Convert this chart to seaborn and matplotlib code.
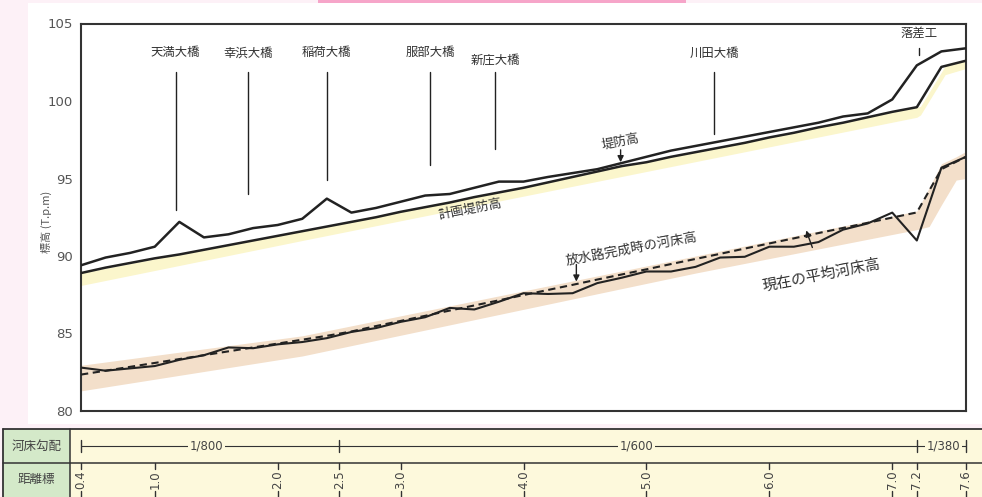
import numpy as np
import pandas as pd
import matplotlib
matplotlib.use("Agg")
import matplotlib.pyplot as plt
import seaborn as sns
from matplotlib.patches import Rectangle
from matplotlib.transforms import blended_transform_factory

# ---------------- data ----------------
dist_km = [0.4, 0.6, 0.8, 1.0, 1.2, 1.4, 1.6, 1.8, 2.0, 2.2, 2.4, 2.6, 2.8, 3.0,
           3.2, 3.4, 3.6, 3.8, 4.0, 4.2, 4.4, 4.6, 4.8, 5.0, 5.2, 5.4, 5.6, 5.8,
           6.0, 6.2, 6.4, 6.6, 6.8, 7.0, 7.2, 7.4, 7.6]
levee_height = [89.4, 89.9, 90.2, 90.6, 92.2, 91.2, 91.4, 91.8, 92.0, 92.4, 93.7,
                92.8, 93.1, 93.5, 93.9, 94.0, 94.4, 94.8, 94.8, 95.1, 95.35, 95.6,
                96.0, 96.4, 96.8, 97.1, 97.4, 97.7, 98.0, 98.3, 98.6, 99.0, 99.2,
                100.1, 102.3, 103.2, 103.4]
plan_levee = [88.9, 89.25, 89.55, 89.85, 90.1, 90.4, 90.7, 91.0, 91.3, 91.6, 91.9,
              92.2, 92.5, 92.85, 93.15, 93.45, 93.8, 94.1, 94.4, 94.75, 95.1, 95.45,
              95.8, 96.05, 96.4, 96.7, 97.0, 97.3, 97.65, 97.95, 98.3, 98.6, 98.95,
              99.3, 99.6, 102.2, 102.6]
bed_now = [82.8, 82.6, 82.75, 82.9, 83.3, 83.6, 84.1, 84.05, 84.3, 84.45, 84.7,
           85.1, 85.35, 85.75, 86.05, 86.65, 86.55, 87.05, 87.6, 87.55, 87.6, 88.25,
           88.6, 89.0, 89.0, 89.3, 89.9, 89.95, 90.6, 90.6, 90.9, 91.7, 92.1, 92.8,
           91.0, 95.7, 96.4]
bed_plan = [82.35, 82.6, 82.85, 83.1, 83.35, 83.6, 83.85, 84.1, 84.35, 84.6, 84.85,
            85.13, 85.48, 85.81, 86.14, 86.48, 86.81, 87.14, 87.48, 87.81, 88.14,
            88.48, 88.81, 89.14, 89.48, 89.81, 90.14, 90.48, 90.81, 91.14, 91.48,
            91.81, 92.14, 92.48, 92.81, 95.6, 96.4]

levee_band_x = [0.4, 2.2, 7.2, 7.23, 7.43, 7.6]
levee_band_top = [88.9, 91.65, 99.6, 99.65, 102.25, 102.6]
levee_band_bottom = [88.1, 91.0, 98.95, 99.1, 101.7, 102.1]

bed_band_x = [0.4, 2.2, 5.4, 7.2, 7.3, 7.4, 7.52, 7.6]
bed_band_top = [82.95, 84.85, 90.0, 92.9, 94.4, 95.95, 96.4, 96.75]
bed_band_bottom = [81.3, 83.55, 88.9, 91.7, 91.9, 93.3, 94.9, 95.0]

bridge_names = ["天満大橋", "幸浜大橋", "稲荷大橋", "服部大橋", "新庄大橋", "川田大橋"]
bridge_km = [1.17, 1.76, 2.40, 3.24, 3.77, 5.55]
bridge_line_bottom = [93.0, 94.0, 94.9, 95.9, 96.9, 97.9]
bridge_label_y = [103.1, 103.1, 103.1, 103.1, 102.65, 103.1]

drop_name = "落差工"
drop_km = 7.22

grad_breaks = [0.4, 2.5, 7.2, 7.6]
grad_labels = ["1/800", "1/600", "1/380"]
grad_label_km = [1.42, 4.92, 7.42]

dist_ticks = [0.4, 1.0, 2.0, 2.5, 3.0, 4.0, 5.0, 6.0, 7.0, 7.2, 7.6]
dist_tick_labels = ["0.4", "1.0", "2.0", "2.5", "3.0", "4.0", "5.0", "6.0",
                    "7.0", "7.2", "7.6"]
y_ticks = [80, 85, 90, 95, 100, 105]

# ---------------- style ----------------
sns.set_style("white")
plt.rcParams["font.family"] = ["Noto Sans CJK JP", "DejaVu Sans"]

W, H = 982, 497
LINE = "#222222"
TXT = "#333333"


def fx(px):
    return px / W


def fy(py):
    return 1 - py / H


fig = plt.figure(figsize=(W / 100, H / 100), dpi=100, facecolor="#fdf1f7")
fig.patches.append(Rectangle((fx(28), fy(424)), fx(982) - fx(28), fy(3) - fy(424),
                             transform=fig.transFigure, facecolor="white",
                             edgecolor="none", zorder=-2))
fig.patches.append(Rectangle((fx(318), fy(3)), fx(686) - fx(318), fy(0) - fy(3),
                             transform=fig.transFigure, facecolor="#f6a5c9",
                             edgecolor="none", zorder=-1))

ax = fig.add_axes([fx(81), fy(411), fx(966) - fx(81), fy(23.5) - fy(411)])
ax.set_facecolor("white")

df = pd.DataFrame({"km": dist_km, "levee": levee_height, "plan_levee": plan_levee,
                   "bed_now": bed_now, "bed_plan": bed_plan})

ax.fill_between(levee_band_x, levee_band_bottom, levee_band_top,
                color="#fbf6cc", lw=0, zorder=1)
ax.fill_between(bed_band_x, bed_band_bottom, bed_band_top,
                color="#f3dfca", lw=0, zorder=1)

sns.lineplot(data=df, x="km", y="levee", ax=ax, color=LINE, lw=1.8,
             estimator=None, zorder=3)
sns.lineplot(data=df, x="km", y="plan_levee", ax=ax, color=LINE, lw=1.8,
             estimator=None, zorder=3)
sns.lineplot(data=df, x="km", y="bed_now", ax=ax, color=LINE, lw=1.5,
             estimator=None, zorder=3)
sns.lineplot(data=df, x="km", y="bed_plan", ax=ax, color=LINE, lw=1.5,
             estimator=None, zorder=4)
ax.lines[-1].set_dashes([3.5, 2.2])

ax.set_xlim(0.4, 7.6)
ax.set_ylim(80, 105)
ax.set_xlabel("")
ax.set_ylabel("")
ax.set_xticks([])
ax.set_yticks(y_ticks)
ax.set_yticklabels([str(v) for v in y_ticks], family="DejaVu Sans")
ax.tick_params(axis="y", length=0, pad=6, labelsize=9.5, labelcolor="#555555")
for s in ax.spines.values():
    s.set_visible(True)
    s.set_color("#333333")
    s.set_linewidth(1.5)

# bridges
for name, km, yb, yl in zip(bridge_names, bridge_km, bridge_line_bottom, bridge_label_y):
    ax.plot([km, km], [101.9, yb], color=LINE, lw=1.0, zorder=2)
    ax.text(km, yl, name, ha="center", va="center", fontsize=8.9, color=TXT)
ax.plot([drop_km, drop_km], [103.45, 102.95], color=LINE, lw=1.0, zorder=2)
ax.text(drop_km, 104.4, drop_name, ha="center", va="center", fontsize=8.9, color=TXT)

# annotations
arrow = dict(arrowstyle="-|>", color=LINE, lw=1.0, mutation_scale=9,
             shrinkA=0, shrinkB=0)
ax.text(4.79, 97.4, "堤防高", rotation=11, ha="center", va="center",
        fontsize=9.2, color=TXT, rotation_mode="anchor")
ax.annotate("", xy=(4.79, 96.05), xytext=(4.79, 96.85), arrowprops=arrow)
ax.text(3.57, 93.0, "計画堤防高", rotation=11, ha="center", va="center",
        fontsize=9.3, color=TXT, rotation_mode="anchor")
ax.text(4.88, 90.5, "放水路完成時の河床高", rotation=10.5, ha="center", va="center",
        fontsize=9.6, color=TXT, rotation_mode="anchor")
ax.annotate("", xy=(4.43, 88.35), xytext=(4.43, 89.45), arrowprops=arrow)
ax.text(6.42, 88.75, "現在の平均河床高", rotation=11, ha="center", va="center",
        fontsize=10.8, color=TXT, rotation_mode="anchor")
ax.annotate("", xy=(6.30, 91.65), xytext=(6.35, 90.55), arrowprops=arrow)

fig.text(fx(46), fy(222), "標高 (T.p.m)", rotation=90, ha="center", va="center",
         fontsize=8, color="#555555")

# ---------------- table ----------------
tab = fig.add_axes([fx(3), 0, fx(982) - fx(3), fy(429)])
tab.set_xlim(0, 1)
tab.set_ylim(0, 1)
tab.set_axis_off()
split = (70 - 3) / (982 - 3)
tab.add_patch(Rectangle((0, 0), split, 1, facecolor="#d4e9c9", edgecolor="none"))
tab.add_patch(Rectangle((split, 0), 1 - split, 1, facecolor="#fdf9dc", edgecolor="none"))
bc = "#333333"
tab.plot([0, 1], [1, 1], color=bc, lw=1.3, clip_on=False)
tab.plot([0, 1], [0.5, 0.5], color=bc, lw=1.1, clip_on=False)
tab.plot([0, 0], [0, 1], color=bc, lw=1.3, clip_on=False)
tab.plot([split, split], [0, 1], color=bc, lw=1.1, clip_on=False)
tab.text(split / 2, 0.75, "河床勾配", ha="center", va="center", fontsize=9, color="#444444")
tab.text(split / 2, 0.25, "距離標", ha="center", va="center", fontsize=9, color="#444444")

trans = blended_transform_factory(ax.transData, tab.transAxes)
tab.plot([grad_breaks[0], grad_breaks[-1]], [0.75, 0.75], transform=trans,
         color=bc, lw=0.8, clip_on=False)
for b in grad_breaks:
    tab.plot([b, b], [0.655, 0.845], transform=trans, color=bc, lw=1.0, clip_on=False)
for pos, lab in zip(grad_label_km, grad_labels):
    tab.text(pos, 0.75, lab, transform=trans, ha="center", va="center",
             fontsize=8.5, family="DejaVu Sans", color="#444444",
             bbox=dict(facecolor="#fdf9dc", edgecolor="none", pad=1.2))

for t, lab in zip(dist_ticks, dist_tick_labels):
    tab.plot([t, t], [0.5, 0.41], transform=trans, color=bc, lw=1.0, clip_on=False)
    tab.plot([t, t], [0.0, 0.09], transform=trans, color=bc, lw=1.0, clip_on=False)
    tab.text(t, 0.25, lab, transform=trans, rotation=90, ha="center", va="center",
             fontsize=8.5, family="DejaVu Sans", color="#444444")

fig.savefig("out.png", dpi=100, facecolor=fig.get_facecolor())
